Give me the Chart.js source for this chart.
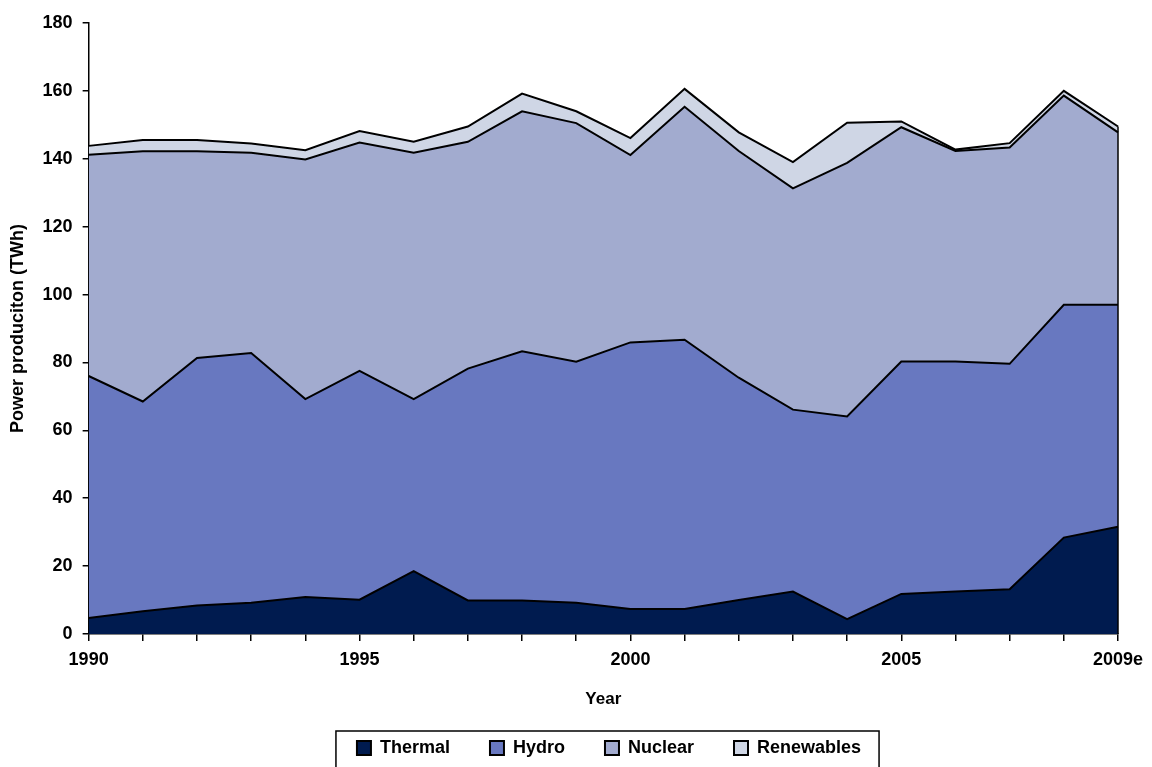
<!DOCTYPE html>
<html>
<head>
<meta charset="utf-8">
<script src="https://cdn.jsdelivr.net/npm/chart.js@4/dist/chart.umd.min.js"></script>
<style>
  html, body { margin: 0; padding: 0; background: #fff; }
  #wrap { width: 1152px; height: 767px; position: relative; }
</style>
</head>
<body>
<div id="wrap"><canvas id="chart"></canvas></div>
<script>
"use strict";

// Data (TWh)
const years = ["1990", "1991", "1992", "1993", "1994", "1995", "1996", "1997", "1998", "1999",
  "2000", "2001", "2002", "2003", "2004", "2005", "2006", "2007", "2008", "2009e"];
const shownYears = ["1990", "1995", "2000", "2005", "2009e"];

const thermal = [4.7, 6.7, 8.4, 9.2, 10.9, 10.1, 18.5, 9.9, 9.9, 9.2,
  7.4, 7.4, 10.0, 12.5, 4.4, 11.8, 12.5, 13.2, 28.4, 31.6];
const hydro = [71.3, 61.8, 72.9, 73.6, 58.3, 67.4, 50.7, 68.3, 73.4, 71.0,
  78.5, 79.3, 65.5, 53.6, 59.7, 68.5, 67.8, 66.4, 68.6, 65.4];
const nuclear = [65.2, 73.7, 60.9, 59.0, 70.6, 67.3, 72.6, 66.8, 70.7, 70.3,
  55.2, 68.6, 66.8, 65.2, 74.7, 69.0, 62.0, 63.7, 61.6, 50.8];
const renewables = [2.6, 3.3, 3.3, 2.7, 2.7, 3.4, 3.2, 4.5, 5.2, 3.5,
  5.0, 5.3, 5.5, 7.7, 11.8, 1.7, 0.4, 1.3, 1.4, 1.7];

const FONT = "'Liberation Sans', Arial, sans-serif";
const LEGEND_SHIFT = 48; // legend sits right of the canvas centre in the original

/**
 * Moves the legend a bit right, draws the frame round it
 * and closes the right edge of the areas
 */
const framePlugin = {
  id: "framePlugin",
  afterLayout(chart) {
    chart.legend.left += LEGEND_SHIFT;
    chart.legend.right += LEGEND_SHIFT;
  },
  afterDraw(chart) {
    const ctx = chart.ctx;
    const boxes = chart.legend.legendHitBoxes;
    if (boxes && boxes.length) {
      const left = Math.min(...boxes.map((b) => b.left));
      const right = Math.max(...boxes.map((b) => b.left + b.width));
      const top = boxes[0].top;
      ctx.save();
      ctx.strokeStyle = "#000";
      ctx.lineWidth = 1.5;
      ctx.strokeRect(left - 21, top - 8, right - left + 39, 60);
      ctx.restore();
    }

    // right edge of the stacked areas
    const last = years.length - 1;
    const x = chart.scales.x.getPixelForValue(last);
    const total = thermal[last] + hydro[last] + nuclear[last] + renewables[last];
    ctx.save();
    ctx.strokeStyle = "#000";
    ctx.lineWidth = 1.5;
    ctx.beginPath();
    ctx.moveTo(x, chart.scales.y.getPixelForValue(0));
    ctx.lineTo(x, chart.scales.y.getPixelForValue(total));
    ctx.stroke();
    ctx.restore();
  },
};

function makeSet(label, data, color, fill) {
  return {
    label,
    data,
    backgroundColor: color,
    borderColor: "#000",
    borderWidth: 2,
    pointRadius: 0,
    tension: 0,
    fill,
  };
}

new Chart(document.getElementById("chart"), {
  type: "line",
  data: {
    labels: years,
    datasets: [
      makeSet("Thermal", thermal, "#001b4f", "origin"),
      makeSet("Hydro", hydro, "#6878c0", "-1"),
      makeSet("Nuclear", nuclear, "#a2abcf", "-1"),
      makeSet("Renewables", renewables, "#cfd6e5", "-1"),
    ],
  },
  options: {
    responsive: true,
    maintainAspectRatio: false,
    animation: false,
    layout: { padding: { top: 23, right: 34, left: 4, bottom: 0 } },
    plugins: {
      legend: {
        position: "bottom",
        labels: {
          color: "#000",
          font: { family: FONT, size: 18, weight: "bold" },
          boxWidth: 14,
          boxHeight: 14,
          padding: 40,
        },
      },
      tooltip: { enabled: false },
    },
    scales: {
      x: {
        offset: false,
        border: { color: "#000", width: 1.5 },
        grid: { drawOnChartArea: false, drawTicks: true, tickLength: 7, color: "#000", lineWidth: 1.5 },
        ticks: {
          color: "#000",
          autoSkip: false,
          maxRotation: 0,
          padding: 8,
          font: { family: FONT, size: 18, weight: "bold" },
          callback(value) {
            const label = this.getLabelForValue(value);
            return shownYears.includes(label) ? label : "";
          },
        },
        title: {
          display: true,
          text: "Year",
          color: "#000",
          font: { family: FONT, size: 17, weight: "bold" },
          padding: { top: 11, bottom: -11 },
        },
      },
      y: {
        stacked: true,
        min: 0,
        max: 180,
        border: { color: "#000", width: 1.5 },
        grid: { drawOnChartArea: false, drawTicks: true, tickLength: 6, color: "#000", lineWidth: 1.5 },
        ticks: {
          stepSize: 20,
          color: "#000",
          padding: 10,
          font: { family: FONT, size: 18, weight: "bold" },
        },
        title: {
          display: true,
          text: "Power produciton (TWh)",
          color: "#000",
          font: { family: FONT, size: 18, weight: "bold" },
          padding: { top: 3, bottom: 4 },
        },
      },
    },
  },
  plugins: [framePlugin],
});
</script>
</body>
</html>
